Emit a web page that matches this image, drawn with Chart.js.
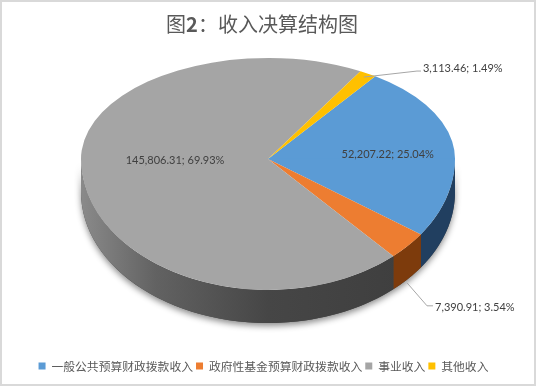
<!DOCTYPE html>
<html>
<head>
<meta charset="utf-8">
<script src="https://cdn.jsdelivr.net/npm/chart.js@4.4.1/dist/chart.umd.min.js"></script>
<style>
  html, body { margin: 0; padding: 0; background: #ffffff; }
  canvas { display: block; }
</style>
</head>
<body>
<canvas id="c" width="536" height="386"></canvas>
<script>
// 收入决算结构（万元）
const categories = ['一般公共预算财政拨款收入', '政府性基金预算财政拨款收入', '事业收入', '其他收入'];
const values = [52207.22, 7390.91, 145806.31, 3113.46];
const topColors = ['#5b9bd5', '#ed7d31', '#a5a5a5', '#ffc000'];
const titleParts = [['图', 'normal'], ['2', 'bold'], ['：收入决算结构图', 'normal']];

const total = values.reduce((s, v) => s + v, 0);
const fmtValue = v => v.toLocaleString('en-US', { minimumFractionDigits: 2, maximumFractionDigits: 2 });
const fmtPct = v => (v / total * 100).toFixed(2) + '%';

// Projects a canvas angle / radius fraction onto the tilted top face.
function project(o, angle, f) {
  const s = Math.sin(angle);
  return {
    x: o.cx + o.rx * f * Math.cos(angle),
    y: o.cy + (s < 0 ? o.ryTop : o.ryBot) * f * s
  };
}

// Clips an arc range to the visible front half [0, PI] (canvas angles).
function frontRange(a0, a1) {
  const out = [];
  for (const k of [-2, 0, 2]) {
    const lo = Math.max(a0, k * Math.PI), hi = Math.min(a1, (k + 1) * Math.PI);
    if (hi > lo) out.push([lo - k * Math.PI, hi - k * Math.PI]);
  }
  return out;
}

function wallPath(ctx, o, lo, hi) {
  const n = 60;
  ctx.moveTo(...Object.values(project(o, lo, 1)));
  for (let i = 1; i <= n; i++) {
    const p = project(o, lo + (hi - lo) * i / n, 1);
    ctx.lineTo(p.x, p.y);
  }
  for (let i = n; i >= 0; i--) {
    const p = project(o, lo + (hi - lo) * i / n, 1);
    ctx.lineTo(p.x, p.y + o.depth);
  }
  ctx.closePath();
}

const pie3d = {
  id: 'pie3d',
  beforeDatasetsDraw(chart, args, o) {
    const ctx = chart.ctx;
    const arcs = chart.getDatasetMeta(0).data;
    const R = arcs[0].outerRadius, ox = arcs[0].x, oy = arcs[0].y;

    // soft shadow under the front wall
    ctx.save();
    ctx.beginPath();
    wallPath(ctx, o, 0, Math.PI);
    ctx.shadowColor = 'rgba(0,0,0,0.45)';
    ctx.shadowBlur = 6;
    ctx.shadowOffsetY = 3;
    ctx.fillStyle = '#444';
    ctx.fill();
    ctx.restore();

    // side walls
    arcs.forEach((a, i) => {
      frontRange(a.startAngle, a.endAngle).forEach(([lo, hi]) => {
        ctx.save();
        ctx.beginPath();
        wallPath(ctx, o, lo, hi);
        let fill = o.sideColors[i];
        if (Array.isArray(fill)) {
          const g = ctx.createLinearGradient(o.cx - o.rx, 0, o.cx + o.rx, 0);
          fill.forEach(([stop, c]) => g.addColorStop(stop, c));
          fill = g;
        }
        ctx.fillStyle = fill;
        ctx.fill();
        ctx.restore();
      });
    });

    // top face: far half and near half with their own vertical scale
    const halves = [
      { ry: o.ryTop, y0: 0, y1: o.cy + 0.5 },
      { ry: o.ryBot, y0: o.cy - 0.5, y1: chart.height }
    ];
    halves.forEach(h => {
      ctx.save();
      ctx.beginPath();
      ctx.rect(0, h.y0, chart.width, h.y1 - h.y0);
      ctx.clip();
      ctx.translate(o.cx, o.cy);
      ctx.scale(o.rx / R, h.ry / R);
      ctx.translate(-ox, -oy);
      arcs.forEach(a => a.draw(ctx));
      ctx.restore();
    });
    return false;
  },
  afterDraw(chart, args, o) {
    const ctx = chart.ctx;
    const arcs = chart.getDatasetMeta(0).data;

    // frame
    ctx.save();
    ctx.strokeStyle = '#d9d9d9';
    ctx.lineWidth = 2;
    ctx.strokeRect(1, 1, chart.width - 2, chart.height - 2);
    ctx.restore();

    // title
    ctx.save();
    ctx.fillStyle = '#595959';
    ctx.textBaseline = 'middle';
    const fam = '"Noto Sans CJK SC", sans-serif';
    let w = 0;
    titleParts.forEach(([t, wt]) => { ctx.font = wt + ' 20px ' + fam; w += ctx.measureText(t).width; });
    let x = o.titleX - w / 2;
    titleParts.forEach(([t, wt]) => {
      ctx.font = wt + ' 20px ' + fam;
      ctx.fillText(t, x, o.titleY);
      x += ctx.measureText(t).width;
    });
    ctx.restore();

    // data labels
    ctx.save();
    ctx.font = '11px Lato, sans-serif';
    ctx.fillStyle = '#404040';
    ctx.textBaseline = 'middle';
    ctx.strokeStyle = '#a6a6a6';
    ctx.lineWidth = 1;
    arcs.forEach((a, i) => {
      const L = o.labels[i];
      const mid = (a.startAngle + a.endAngle) / 2;
      const text = fmtValue(values[i]) + '; ' + fmtPct(values[i]);
      const p = project(o, mid, L.f);
      if (!L.leader) {
        ctx.textAlign = 'center';
        ctx.fillText(text, p.x, p.y + L.dy);
      } else {
        const sx = p.x + L.start[0], sy = p.y + L.start[1] + (L.onWall ? o.depth : 0);
        const ex = sx + L.leader[0], ey = sy + L.leader[1];
        ctx.beginPath();
        ctx.moveTo(sx, sy);
        ctx.lineTo(ex, ey);
        ctx.lineTo(ex + L.tail, ey);
        ctx.stroke();
        ctx.textAlign = 'left';
        ctx.fillText(text, ex + L.tail + 2, ey + L.dy);
      }
    });
    ctx.restore();
  }
};

new Chart(document.getElementById('c'), {
  type: 'pie',
  data: {
    labels: categories,
    datasets: [{
      data: values,
      backgroundColor: topColors,
      borderWidth: 0
    }]
  },
  plugins: [pie3d],
  options: {
    responsive: false,
    devicePixelRatio: 1,
    animation: false,
    rotation: 35,
    layout: { padding: { left: 0, right: 9, top: 0, bottom: 4 } },
    plugins: {
      tooltip: { enabled: false },
      legend: {
        position: 'bottom',
        labels: {
          boxWidth: 7,
          boxHeight: 7,
          padding: 3,
          color: '#595959',
          font: { size: 11.8, family: '"Noto Sans CJK SC", sans-serif' }
        }
      },
      pie3d: {
        cx: 268, cy: 159, rx: 187, ryTop: 101, ryBot: 131, depth: 33,
        titleX: 262, titleY: 24,
        sideColors: [
          '#213f60',
          '#7d3b0c',
          [[0, '#8a8a8a'], [0.2, '#626262'], [0.5, '#464646'], [1, '#3c3c3c']],
          '#8a6a00'
        ],
        labels: [
          { f: 0.65, dy: 7 },
          { f: 1, start: [-1, 4], onWall: true, leader: [20, 23], tail: 6, dy: 2 },
          { f: 0.5, dy: -6 },
          { f: 0.96, start: [0, 0], leader: [53, -6], tail: 4, dy: -3 }
        ]
      }
    }
  }
});
</script>
</body>
</html>
